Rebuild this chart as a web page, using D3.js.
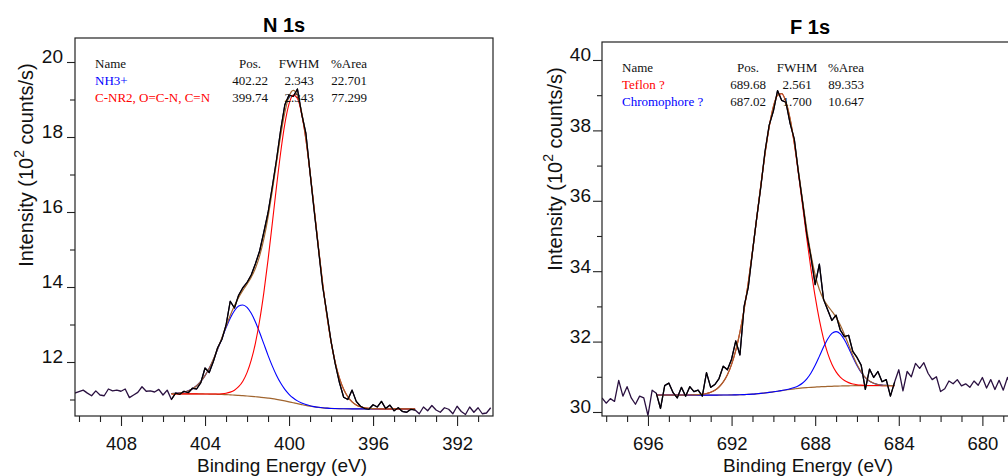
<!DOCTYPE html>
<html>
<head>
<meta charset="utf-8">
<script src="https://cdn.jsdelivr.net/npm/d3@7"></script>
<style>
  html, body { margin: 0; padding: 0; background: #fff; }
  svg { display: block; }
  .sans { font-family: "Liberation Sans", Arial, Helvetica, sans-serif; }
  .serif { font-family: "Liberation Serif", "Times New Roman", serif; }
</style>
</head>
<body>
<svg id="chart" width="1008" height="476"></svg>
<script>
// ---------------- N 1s region ----------------
// Measured spectrum: binding energy from 410.2 eV downwards in 0.2 eV steps (10^2 counts/s)
const n1sStart = 410.2;
const n1sStep = 0.2;
const n1sCounts = [
  11.17, 11.21, 11.25, 11.17, 11.10, 11.23, 11.12, 11.10, 11.28, 11.23,
  11.25, 11.22, 11.28, 11.05, 11.12, 11.19, 11.34, 11.22, 11.23, 11.20,
  11.27, 11.12, 11.25,
  11.00, 11.17, 11.14, 11.22, 11.18, 11.30, 11.28, 11.45, 11.84, 11.72,
  12.02, 12.38, 12.60, 12.98, 13.62, 13.44, 13.78, 13.98, 14.12, 14.32,
  14.62, 14.96, 15.46, 15.98, 16.66, 17.38, 18.18, 18.86, 19.12, 19.08,
  19.28, 18.62, 18.10, 17.05, 16.02, 15.02, 14.02, 13.30, 12.55, 11.95,
  11.45, 11.06, 11.00, 11.25, 10.95, 10.82, 10.76, 10.74, 10.86, 10.80,
  10.95, 10.76, 10.85, 10.70, 10.78, 10.68, 10.66, 10.74, 10.72,
  10.62, 10.80, 10.70, 10.84, 10.72, 10.66, 10.78, 10.74, 10.62, 10.82,
  10.68, 10.60, 10.80, 10.66, 10.78, 10.62, 10.64, 10.78
];
// Fitted region: 405.6 eV down to 394.0 eV, same step
const n1sFitStart = 405.6;
const n1sBackground = [
  11.150, 11.150, 11.150, 11.150, 11.150, 11.149, 11.149, 11.148, 11.147, 11.145,
  11.143, 11.139, 11.135, 11.130, 11.124, 11.117, 11.110, 11.102, 11.093, 11.084,
  11.074, 11.063, 11.051, 11.037, 11.022, 11.004, 10.984, 10.962, 10.938, 10.913,
  10.888, 10.864, 10.841, 10.821, 10.804, 10.789, 10.777, 10.769, 10.762, 10.758,
  10.755, 10.753, 10.752, 10.751, 10.750, 10.750, 10.750, 10.750, 10.750, 10.750,
  10.750, 10.750, 10.750, 10.750, 10.750, 10.750, 10.750, 10.750, 10.750
];
// Component intensities above the background
const n1sNH3 = [
  0.008, 0.015, 0.027, 0.049, 0.084, 0.138, 0.219, 0.334, 0.489, 0.686,
  0.925, 1.198, 1.490, 1.780, 2.042, 2.250, 2.381, 2.420, 2.362, 2.214,
  1.993, 1.723, 1.431, 1.141, 0.874, 0.643, 0.454, 0.308, 0.201, 0.126,
  0.076, 0.044, 0.024, 0.013, 0.007, 0.003, 0.001, 0, 0, 0,
  0, 0, 0, 0, 0, 0, 0, 0, 0, 0,
  0, 0, 0, 0, 0, 0, 0, 0, 0
];
const n1sCN = [
  0, 0, 0, 0, 0, 0, 0, 0, 0.001, 0.002,
  0.004, 0.009, 0.019, 0.038, 0.073, 0.132, 0.231, 0.387, 0.623, 0.964,
  1.432, 2.044, 2.800, 3.687, 4.661, 5.658, 6.597, 7.387, 7.944, 8.205,
  8.139, 7.754, 7.095, 6.234, 5.261, 4.264, 3.319, 2.482, 1.782, 1.228,
  0.814, 0.518, 0.316, 0.185, 0.104, 0.056, 0.029, 0.015, 0.007, 0.003,
  0.001, 0, 0, 0, 0, 0, 0, 0, 0
];
const n1sNames = ["NH3+", "C-NR2, O=C-N, C=N"];
const n1sPos = ["402.22", "399.74"];
const n1sFwhm = ["2.343", "2.343"];
const n1sArea = ["22.701", "77.299"];
const n1sXTicks = [408, 404, 400, 396, 392];
const n1sXMinor = [410, 409, 407, 406, 405, 403, 402, 401, 399, 398, 397, 395, 394, 393, 391];
const n1sYTicks = [12, 14, 16, 18, 20];
const n1sYMinor = [11, 13, 15, 17, 19];

// ---------------- F 1s region ----------------
const f1sStart = 698.2;
const f1sStep = 0.2;
const f1sCounts = [
  30.40, 30.25, 30.38, 30.30, 30.90, 30.45, 30.72, 30.40, 30.22, 30.45,
  30.40, 29.90, 30.62,
  30.53, 30.10, 30.75, 30.82, 30.55, 30.40, 30.70, 30.45, 30.72, 30.58,
  30.62, 30.45, 31.12, 30.70, 30.78, 30.95, 31.30, 31.20, 31.50, 32.02,
  31.62, 33.00, 33.55, 34.55, 35.50, 36.40, 37.40, 38.15, 38.55, 39.13,
  38.85, 38.80, 38.20, 37.75, 36.80, 35.95, 35.05, 34.40, 33.62, 34.20,
  33.20, 32.90, 32.60, 32.75, 32.33, 32.14, 32.18, 31.72, 31.55, 31.33,
  30.64, 31.22, 30.98, 31.15, 30.86, 30.92, 30.45, 30.85,
  31.20, 30.60, 31.15, 31.00, 31.38, 31.24, 31.40, 31.10, 30.92, 31.00,
  30.58, 30.66, 30.88, 30.80, 30.92, 30.74, 30.80, 30.70, 30.88, 30.76,
  30.98, 30.68, 30.92, 30.64, 30.90, 30.62, 30.98, 30.70, 30.85
];
const f1sFitStart = 695.6;
const f1sBackground = [
  30.480, 30.480, 30.480, 30.480, 30.480, 30.480, 30.480, 30.480, 30.480, 30.480,
  30.480, 30.480, 30.480, 30.480, 30.480, 30.481, 30.482, 30.483, 30.484, 30.486,
  30.489, 30.494, 30.500, 30.507, 30.517, 30.528, 30.541, 30.556, 30.573, 30.590,
  30.608, 30.625, 30.642, 30.657, 30.671, 30.683, 30.693, 30.702, 30.709, 30.715,
  30.721, 30.726, 30.730, 30.734, 30.738, 30.741, 30.744, 30.746, 30.748, 30.749,
  30.749, 30.750, 30.750, 30.750, 30.750, 30.750, 30.750, 30.750
];
const f1sTeflon = [
  0, 0, 0, 0, 0, 0, 0, 0.002, 0.003, 0.007,
  0.013, 0.024, 0.045, 0.080, 0.138, 0.230, 0.371, 0.577, 0.870, 1.266,
  1.781, 2.422, 3.186, 4.050, 4.978, 5.915, 6.795, 7.546, 8.101, 8.408,
  8.437, 8.184, 7.675, 6.957, 6.098, 5.166, 4.232, 3.351, 2.566, 1.899,
  1.359, 0.940, 0.628, 0.406, 0.254, 0.153, 0.090, 0.051, 0.028, 0.015,
  0.007, 0.004, 0.002, 0.001, 0, 0, 0, 0
];
const f1sChromophore = [
  0, 0, 0, 0, 0, 0, 0, 0, 0, 0,
  0, 0, 0, 0, 0, 0, 0, 0, 0, 0,
  0, 0, 0, 0, 0, 0, 0, 0, 0, 0.001,
  0.003, 0.007, 0.016, 0.036, 0.074, 0.141, 0.249, 0.408, 0.617, 0.865,
  1.123, 1.349, 1.503, 1.549, 1.480, 1.309, 1.072, 0.813, 0.571, 0.372,
  0.224, 0.125, 0.065, 0.031, 0.014, 0.006, 0.002, 0.001
];
const f1sNames = ["Teflon ?", "Chromophore ?"];
const f1sPos = ["689.68", "687.02"];
const f1sFwhm = ["2.561", "1.700"];
const f1sArea = ["89.353", "10.647"];
const f1sXTicks = [696, 692, 688, 684, 680];
const f1sXMinor = [698, 697, 695, 694, 693, 691, 690, 689, 687, 686, 685, 683, 682, 681, 679];
const f1sYTicks = [30, 32, 34, 36, 38, 40];
const f1sYMinor = [31, 33, 35, 37, 39];

const svg = d3.select("#chart");
const bgColor = "#a1652f";

function drawPanel(p) {
  const g = svg.append("g");
  const x = d3.scaleLinear().domain(p.xDomain).range([p.box.left, p.box.right]);
  const y = d3.scaleLinear().domain(p.yDomain).range([p.box.bottom, p.box.top]);

  const clipId = "clip-" + p.id;
  svg.append("defs").append("clipPath").attr("id", clipId)
    .append("rect")
    .attr("x", p.box.left).attr("y", p.box.top)
    .attr("width", p.box.right - p.box.left)
    .attr("height", p.box.bottom - p.box.top);

  const raw = p.counts.map((v, i) => ({ e: p.start - i * p.step, v }));
  const fitEnd = p.fitStart - (p.background.length - 1) * p.step;
  const fit = p.background.map((b, i) => ({
    e: p.fitStart - i * p.step,
    b,
    parts: p.components.map(c => c.values[i])
  }));

  const plot = g.append("g").attr("clip-path", `url(#${clipId})`);
  const rawLine = d3.line().x(d => x(d.e)).y(d => y(d.v));
  const smooth = d3.line().curve(d3.curveMonotoneX).x(d => x(d.e)).y(d => y(d.v));

  // spectrum outside the fitted window
  plot.append("path").datum(raw).attr("d", rawLine)
    .attr("fill", "none").attr("stroke", "#2a1040").attr("stroke-width", 1.3)
    .attr("stroke-linejoin", "round");

  // background
  plot.append("path").datum(fit.map(d => ({ e: d.e, v: d.b }))).attr("d", smooth)
    .attr("fill", "none").attr("stroke", bgColor).attr("stroke-width", 1.2);

  // components on top of the background
  p.components.forEach((c, k) => {
    plot.append("path").datum(fit.map(d => ({ e: d.e, v: d.b + d.parts[k] }))).attr("d", smooth)
      .attr("fill", "none").attr("stroke", c.color).attr("stroke-width", 1.1);
  });

  // envelope
  plot.append("path").datum(fit.map(d => ({ e: d.e, v: d.b + d3.sum(d.parts) }))).attr("d", smooth)
    .attr("fill", "none").attr("stroke", bgColor).attr("stroke-width", 1.2);

  // spectrum within the fitted window
  plot.append("path")
    .datum(raw.filter(d => d.e <= p.fitStart + 1e-6 && d.e >= fitEnd - 1e-6))
    .attr("d", rawLine)
    .attr("fill", "none").attr("stroke", "#000").attr("stroke-width", 1.2)
    .attr("stroke-linejoin", "round");

  // frame
  g.append("rect")
    .attr("x", p.box.left).attr("y", p.box.top)
    .attr("width", p.box.right - p.box.left).attr("height", p.box.bottom - p.box.top)
    .attr("fill", "none").attr("stroke", "#222").attr("stroke-width", 1.2);

  // x axis
  const xMaj = g.append("g").attr("class", "sans").attr("transform", `translate(0,${p.box.bottom})`)
    .call(d3.axisBottom(x).tickValues(p.xTicks).tickSize(10).tickPadding(11).tickFormat(d3.format("d")));
  g.append("g").attr("transform", `translate(0,${p.box.bottom})`)
    .call(d3.axisBottom(x).tickValues(p.xMinor).tickSize(6).tickFormat(""));

  // y axis
  const yMaj = g.append("g").attr("class", "sans").attr("transform", `translate(${p.box.left},0)`)
    .call(d3.axisLeft(y).tickValues(p.yTicks).tickSize(p.yTick).tickPadding(p.yPad).tickFormat(d3.format("d")));
  g.append("g").attr("transform", `translate(${p.box.left},0)`)
    .call(d3.axisLeft(y).tickValues(p.yMinor).tickSize(5).tickFormat(""));

  g.selectAll(".domain").remove();
  g.selectAll(".tick line").attr("stroke", "#222").attr("stroke-width", 1.1);
  xMaj.selectAll("text").attr("font-size", 18.5).attr("fill", "#111")
    .attr("font-family", "Liberation Sans, Arial, sans-serif");
  yMaj.selectAll("text").attr("font-size", 19).attr("fill", "#111").attr("dy", "0.05em")
    .attr("font-family", "Liberation Sans, Arial, sans-serif");

  // title
  g.append("text").attr("class", "sans")
    .attr("x", p.titleX).attr("y", p.titleY)
    .attr("text-anchor", "middle").attr("font-size", 20).attr("font-weight", "bold")
    .text(p.title);

  // axis titles
  g.append("text").attr("class", "sans")
    .attr("x", p.xLabelX).attr("y", 472)
    .attr("text-anchor", "middle").attr("font-size", 19).attr("fill", "#111")
    .text("Binding Energy (eV)");

  const yl = g.append("text").attr("class", "sans")
    .attr("transform", `translate(${p.yLabelX},${p.yLabelY}) rotate(-90)`)
    .attr("text-anchor", "middle").attr("font-size", 20).attr("fill", "#111");
  yl.append("tspan").text("Intensity (10");
  yl.append("tspan").attr("font-size", 14).attr("dy", -9).text("2");
  yl.append("tspan").attr("dy", 9).text(" counts/s)");

  // fit table
  const t = g.append("g").attr("class", "serif").attr("font-size", 13).attr("fill", "#111");
  const rows = p.tableRows;
  t.append("text").attr("x", p.table.name).attr("y", rows[0]).text("Name");
  t.append("text").attr("x", p.table.pos).attr("y", rows[0]).attr("text-anchor", "middle").text("Pos.");
  t.append("text").attr("x", p.table.fwhm).attr("y", rows[0]).attr("text-anchor", "middle").text("FWHM");
  t.append("text").attr("x", p.table.area).attr("y", rows[0]).attr("text-anchor", "middle").text("%Area");
  p.components.forEach((c, k) => {
    const ry = rows[k + 1];
    t.append("text").attr("x", p.table.name).attr("y", ry).attr("fill", c.color).text(c.name);
    t.append("text").attr("x", p.table.pos).attr("y", ry).attr("text-anchor", "middle").text(c.pos);
    t.append("text").attr("x", p.table.fwhm).attr("y", ry).attr("text-anchor", "middle").text(c.fwhm);
    t.append("text").attr("x", p.table.area).attr("y", ry).attr("text-anchor", "middle").text(c.area);
  });
}

drawPanel({
  id: "n1s",
  title: "N 1s",
  box: { left: 75, right: 493, top: 38, bottom: 416 },
  xDomain: [410.19, 390.29],
  yDomain: [10.56, 20.64],
  start: n1sStart, step: n1sStep, counts: n1sCounts,
  fitStart: n1sFitStart, background: n1sBackground,
  components: [
    { name: n1sNames[0], pos: n1sPos[0], fwhm: n1sFwhm[0], area: n1sArea[0], values: n1sNH3, color: "#0000ff" },
    { name: n1sNames[1], pos: n1sPos[1], fwhm: n1sFwhm[1], area: n1sArea[1], values: n1sCN, color: "#ff0000" }
  ],
  xTicks: n1sXTicks, xMinor: n1sXMinor, yTicks: n1sYTicks, yMinor: n1sYMinor,
  yTick: 8, yPad: 4,
  titleX: 284, titleY: 32,
  xLabelX: 282,
  yLabelX: 33, yLabelY: 165,
  table: { name: 95, pos: 250, fwhm: 299, area: 349 },
  tableRows: [68, 85, 102]
});

drawPanel({
  id: "f1s",
  title: "F 1s",
  box: { left: 602, right: 1020, top: 42, bottom: 416 },
  xDomain: [698.2, 678.2],
  yDomain: [29.886, 40.511],
  start: f1sStart, step: f1sStep, counts: f1sCounts,
  fitStart: f1sFitStart, background: f1sBackground,
  components: [
    { name: f1sNames[0], pos: f1sPos[0], fwhm: f1sFwhm[0], area: f1sArea[0], values: f1sTeflon, color: "#ff0000" },
    { name: f1sNames[1], pos: f1sPos[1], fwhm: f1sFwhm[1], area: f1sArea[1], values: f1sChromophore, color: "#0000ff" }
  ],
  xTicks: f1sXTicks, xMinor: f1sXMinor, yTicks: f1sYTicks, yMinor: f1sYMinor,
  yTick: 9, yPad: 2,
  titleX: 810, titleY: 34,
  xLabelX: 808,
  yLabelX: 562, yLabelY: 169,
  table: { name: 622, pos: 748, fwhm: 797, area: 846 },
  tableRows: [71.5, 88.5, 105.5]
});
</script>
</body>
</html>
